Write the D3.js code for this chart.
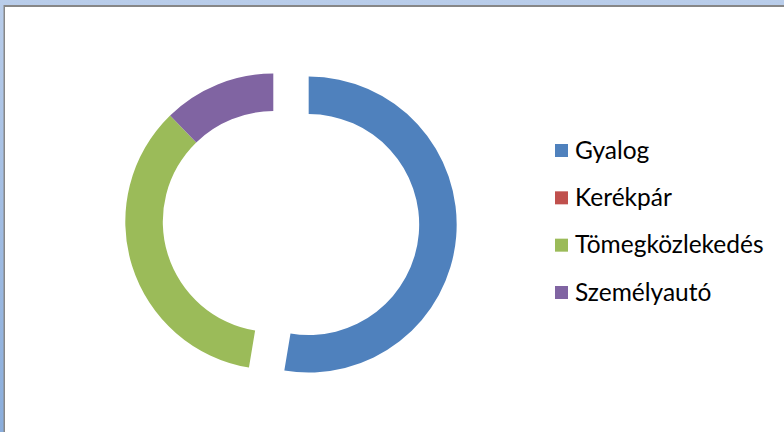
<!DOCTYPE html>
<html>
<head>
<meta charset="utf-8">
<script src="https://cdn.jsdelivr.net/npm/d3@7"></script>
<style>
  body { margin: 0; background: #fff; }
  text { font-family: Lato, "Open Sans", sans-serif; }
</style>
</head>
<body>
<svg id="body" width="784" height="432"></svg>
<script>
let categories = ["Gyalog", "Kerékpár", "Tömegközlekedés", "Személyautó"]
let values = [30, 0, 20, 7]
let colors = ["#4F81BD", "#C0504D", "#9BBB59", "#8064A2"]

let svg = d3.select("#body")

// window frame behind the chart area
let grad = svg.append("defs").append("linearGradient")
	.attr("id", "frame").attr("x1", 0).attr("y1", 0).attr("x2", 0).attr("y2", 1)
grad.append("stop").attr("offset", "0%").attr("stop-color", "#b9cdea")
grad.append("stop").attr("offset", "100%").attr("stop-color", "#8aaddb")

svg.append("rect").attr("width", 784).attr("height", 432).attr("fill", "url(#frame)")
svg.append("rect").attr("x", 3.5).attr("y", 5).attr("width", 784).attr("height", 432).attr("fill", "#878787")
svg.append("rect").attr("x", 5).attr("y", 7).attr("width", 784).attr("height", 432).attr("fill", "#fff")

//doughnut
let cx = 273.3, cy = 221.6
let outer = 148, inner = 110.5
let explode = 35.5   // only the first slice is pulled out

let pie = d3.pie().sort(null).value(d => d)
let arcs = pie(values)

let arc = d3.arc().innerRadius(inner).outerRadius(outer)

let ring = svg.append("g").attr("transform", "translate(" + cx + "," + cy + ")")

ring.selectAll("path")
	.data(arcs)
	.enter()
	.append("path")
	.attr("d", arc)
	.attr("fill", (d, i) => colors[i])
	.attr("transform", (d, i) => {
		if (i !== 0) return null
		let a = (d.startAngle + d.endAngle) / 2
		return "translate(" + (explode * Math.sin(a)) + "," + (-explode * Math.cos(a)) + ")"
	})

//legend
let legendY = d3.scalePoint()
	.domain(categories)
	.range([150.5, 292.5])

let legend = svg.append("g")

legend.selectAll("rect")
	.data(categories)
	.enter()
	.append("rect")
	.attr("x", 555)
	.attr("y", d => legendY(d) - 6.5)
	.attr("width", 13)
	.attr("height", 13)
	.attr("fill", (d, i) => colors[i])

legend.selectAll("text")
	.data(categories)
	.enter()
	.append("text")
	.attr("x", 575)
	.attr("y", d => legendY(d) + 8)
	.style("font-size", "24.5px")
	.style("fill", "#000")
	.text(d => d)
</script>
</body>
</html>
